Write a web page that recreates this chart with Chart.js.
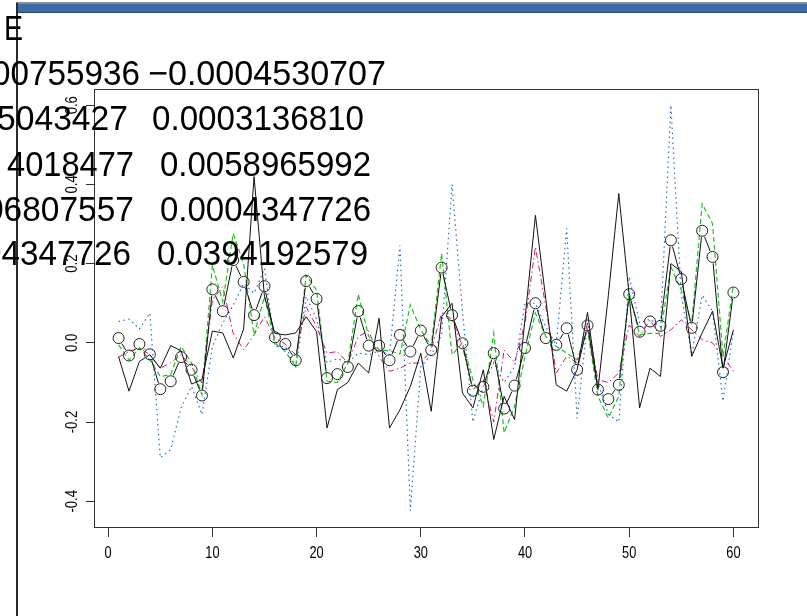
<!DOCTYPE html>
<html><head><meta charset="utf-8">
<script src="https://cdn.jsdelivr.net/npm/chart.js@4.4.1/dist/chart.umd.min.js"></script>
<style>
html,body{margin:0;padding:0;background:#fff;width:807px;height:616px;overflow:hidden;}
#wrap{position:relative;width:807px;height:616px;}
canvas{position:absolute;left:0;top:0;}
.deco{position:absolute;}
#txt{position:absolute;left:0;top:0;pointer-events:none;}
</style></head><body>
<div id="wrap">
<canvas id="c" width="807" height="616"></canvas>
<div class="deco" style="left:16px;top:2px;width:791px;height:2px;background:#8c8c8c"></div>
<div class="deco" style="left:16px;top:4px;width:791px;height:8px;background:#3e6ca8"></div>
<div class="deco" style="left:16px;top:12px;width:791px;height:1px;background:#26446e"></div>
<div class="deco" style="left:16px;top:3px;width:2px;height:613px;background:#2a2a2a"></div>
<svg id="txt" width="807" height="616" xmlns="http://www.w3.org/2000/svg"></svg>
</div>
<script>
// ---- data ----
const index = [1,2,3,4,5,6,7,8,9,10,11,12,13,14,15,16,17,18,19,20,21,22,23,24,25,26,27,28,29,30,
               31,32,33,34,35,36,37,38,39,40,41,42,43,44,45,46,47,48,49,50,51,52,53,54,55,56,57,58,59,60];
const solidBlack = [-0.035,-0.122,-0.047,-0.03,-0.064,-0.007,-0.02,-0.104,-0.093,0.03,
                    0.025,-0.038,0.035,0.42,0.117,0.024,0.02,0.025,0.066,0.028,
                    -0.215,-0.118,-0.1,-0.051,-0.076,0.062,-0.215,-0.169,-0.11,-0.026,
                    -0.173,0.066,0.1,-0.127,-0.164,-0.068,-0.244,-0.135,-0.194,0.06,
                    0.322,0.11,-0.106,-0.122,-0.068,0.077,-0.118,0.12,0.377,0.12,
                    -0.164,-0.064,-0.085,0.2,0.18,-0.034,0.025,0.08,-0.064,0.033];
const circles = [0.012,-0.032,-0.003,-0.029,-0.117,-0.097,-0.036,-0.068,-0.133,0.135,
                 0.08,0.209,0.154,0.07,0.143,0.014,-0.003,-0.044,0.156,0.111,
                 -0.089,-0.079,-0.061,0.08,-0.007,-0.007,-0.044,0.02,-0.022,0.031,
                 -0.018,0.19,0.07,-0.001,-0.121,-0.111,-0.026,-0.166,-0.108,-0.013,
                 0.1,0.012,-0.005,0.037,-0.068,0.044,-0.118,-0.142,-0.106,0.123,
                 0.028,0.054,0.043,0.259,0.161,0.038,0.283,0.217,-0.074,0.127];
const crimsonDashDot = [-0.036,-0.022,-0.013,-0.03,-0.064,-0.05,-0.03,-0.06,-0.101,0.108,
                        0.142,0.024,-0.018,0.02,0.066,0.013,-0.003,-0.03,0.091,0.041,
                        -0.026,-0.022,-0.051,0.016,0.03,-0.035,-0.072,-0.064,-0.051,-0.051,
                        -0.018,0.075,0.06,-0.009,-0.118,-0.093,-0.2,-0.018,-0.05,0.05,
                        0.242,0.091,-0.076,-0.034,-0.05,0.05,-0.093,-0.1,-0.076,0.045,
                        0.016,0.058,0.016,0.033,0.058,0.033,0.008,0.0,-0.034,-0.072];
const greenDashed = [-0.005,-0.043,-0.013,-0.043,-0.085,-0.08,-0.009,-0.051,-0.131,0.196,
                     0.104,0.276,0.2,0.02,0.117,0.0,-0.022,-0.06,0.171,0.133,
                     -0.097,-0.1,-0.051,0.123,0.016,-0.018,-0.02,-0.028,0.096,0.033,
                     -0.009,0.226,-0.03,0.0,-0.093,-0.16,0.024,-0.227,-0.16,-0.034,
                     0.075,0.016,-0.009,-0.026,-0.043,0.033,-0.135,-0.19,-0.135,0.125,
                     0.02,0.024,0.024,0.192,0.133,0.05,0.351,0.301,-0.034,0.146];
const blueDotted = [0.054,0.06,0.035,0.075,-0.29,-0.27,-0.164,-0.11,-0.181,-0.01,
                    0.05,0.095,0.15,0.125,0.188,-0.009,-0.01,-0.06,0.117,0.06,
                    -0.05,-0.04,-0.05,-0.026,-0.03,-0.02,-0.03,0.246,-0.424,-0.06,
                    -0.03,0.02,0.4,0.08,-0.2,-0.11,-0.05,-0.1,-0.06,0.1,
                    0.1,0.04,-0.005,0.289,-0.19,0.05,-0.1,-0.18,-0.2,0.167,
                    0.05,0.06,0.04,0.6,0.12,-0.03,0.12,0.08,-0.147,0.03];
const xTickValues = [0,10,20,30,40,50,60];
const xTickLabels = ['0','10','20','30','40','50','60'];
const yTickValues = [-0.4,-0.2,0.0,0.2,0.4,0.6];
const yTickLabels = ['-0.4','-0.2','0.0','0.2','0.4','0.6'];
// printed console text overlay (visible part)
const printHeader = 'E';
const printLeft  = ['00755936','5043427','4018477','06807557','04347726'];
const printRight = ['\u22120.0004530707','0.0003136810','0.0058965992','0.0004347726','0.0394192579'];

// ---- text overlay ----
(function(){
  const svg = document.getElementById('txt');
  const NS = 'http://www.w3.org/2000/svg';
  function t(str, x, y, len){
    const e = document.createElementNS(NS,'text');
    e.setAttribute('x', x); e.setAttribute('y', y);
    e.setAttribute('font-family', "'Liberation Sans', Arial, sans-serif");
    e.setAttribute('font-size', '35');
    e.setAttribute('fill', '#000');
    if (len) { e.setAttribute('textLength', len); e.setAttribute('lengthAdjust', 'spacingAndGlyphs'); }
    e.textContent = str;
    svg.appendChild(e);
  }
  t(printHeader, 4, 40, 19);
  const base = [85, 130, 175.5, 220.5, 265];
  const lx = [-8, -3, 7, -15, -17];
  const ll = [148, 131, 127, 149, 148];
  const rx = [148, 152, 160, 160, 157];
  const rl = [238, 212, 211, 211, 211];
  for (let i = 0; i < 5; i++) {
    t(printLeft[i], lx[i], base[i], ll[i]);
    t(printRight[i], rx[i], base[i], rl[i]);
  }
})();

// ---- chart ----
const pts = arr => arr.map((v, i) => ({x: index[i], y: v}));
const AXC = '#333';
const labelFont = "16px 'Liberation Sans', Arial, sans-serif";

const gapLines = {
  id: 'gapLines',
  afterDatasetDraw(chart, args) {
    const ds = chart.data.datasets[args.index];
    if (!ds.gapLine) return;
    const p = args.meta.data;
    const ctx = chart.ctx;
    const a = chart.chartArea;
    ctx.save();
    ctx.beginPath(); ctx.rect(a.left, a.top, a.right - a.left, a.bottom - a.top); ctx.clip();
    ctx.strokeStyle = '#111'; ctx.lineWidth = 1;
    const g = 6.5;
    for (let i = 0; i < p.length - 1; i++) {
      const dx = p[i+1].x - p[i].x, dy = p[i+1].y - p[i].y, d = Math.hypot(dx, dy);
      if (d <= 2 * g + 1) continue;
      const ux = dx / d, uy = dy / d;
      ctx.beginPath();
      ctx.moveTo(p[i].x + ux * g, p[i].y + uy * g);
      ctx.lineTo(p[i+1].x - ux * g, p[i+1].y - uy * g);
      ctx.stroke();
    }
    ctx.restore();
  }
};
const frameAndLabels = {
  id: 'frameAndLabels',
  afterDraw(chart) {
    const ctx = chart.ctx, a = chart.chartArea, sy = chart.scales.y, sx = chart.scales.x;
    ctx.save();
    ctx.strokeStyle = AXC; ctx.lineWidth = 1;
    ctx.strokeRect(Math.round(a.left) + 0.5, Math.round(a.top) + 0.5,
                   Math.round(a.right - a.left), Math.round(a.bottom - a.top));
    ctx.fillStyle = '#000';
    ctx.font = labelFont;
    ctx.textAlign = 'center'; ctx.textBaseline = 'middle';
    yTickValues.forEach((v, i) => {
      const y = sy.getPixelForValue(v);
      ctx.save(); ctx.translate(73, y); ctx.rotate(-Math.PI / 2); ctx.scale(0.82, 1);
      ctx.fillText(yTickLabels[i], 0, 0);
      ctx.restore();
    });
    xTickValues.forEach((v, i) => {
      const x = sx.getPixelForValue(v);
      ctx.save(); ctx.translate(x, 554); ctx.scale(0.8, 1);
      ctx.fillText(xTickLabels[i], 0, 0);
      ctx.restore();
    });
    ctx.restore();
  }
};

new Chart(document.getElementById('c'), {
  type: 'line',
  data: {
    datasets: [
      { label: 'solid', data: pts(solidBlack), borderColor: '#111', borderWidth: 1, pointRadius: 0, order: 1 },
      { label: 'circles', data: pts(circles), showLine: false, gapLine: true, borderColor: '#222',
        pointRadius: 5.5, pointBorderColor: '#222', pointBorderWidth: 1, pointBackgroundColor: 'rgba(0,0,0,0)', order: 0 },
      { label: 'crimson', data: pts(crimsonDashDot), borderColor: '#d0186a', borderWidth: 1, borderDash: [6,3,1.5,3], pointRadius: 0, order: 3 },
      { label: 'green', data: pts(greenDashed), borderColor: '#1cc41c', borderWidth: 1.2, borderDash: [5,3], pointRadius: 0, order: 2 },
      { label: 'blue', data: pts(blueDotted), borderColor: '#1f6fd8', borderWidth: 1.2, borderDash: [1.5,3.5], pointRadius: 0, order: 4 }
    ]
  },
  options: {
    responsive: false, animation: false,
    layout: { padding: { left: 54, right: 49, top: 89, bottom: 49 } },
    elements: { line: { tension: 0, fill: false } },
    plugins: { legend: { display: false }, tooltip: { enabled: false }, title: { display: false } },
    scales: {
      x: {
        type: 'linear', position: 'bottom', min: -1.36, max: 62.36,
        afterBuildTicks: sc => { sc.ticks = xTickValues.map(v => ({ value: v })); },
        ticks: { display: false },
        grid: { display: true, drawOnChartArea: false, drawTicks: true, tickLength: 10, color: AXC, lineWidth: 1 },
        border: { display: true, color: AXC, width: 1 },
        afterFit: sc => { sc.height = 40; }
      },
      y: {
        type: 'linear', min: -0.465, max: 0.641,
        afterBuildTicks: sc => { sc.ticks = yTickValues.map(v => ({ value: v })); },
        ticks: { display: false },
        grid: { display: true, drawOnChartArea: false, drawTicks: true, tickLength: 8, color: AXC, lineWidth: 1 },
        border: { display: true, color: AXC, width: 1 },
        afterFit: sc => { sc.width = 40; }
      }
    }
  },
  plugins: [gapLines, frameAndLabels]
});
</script>
</body></html>
